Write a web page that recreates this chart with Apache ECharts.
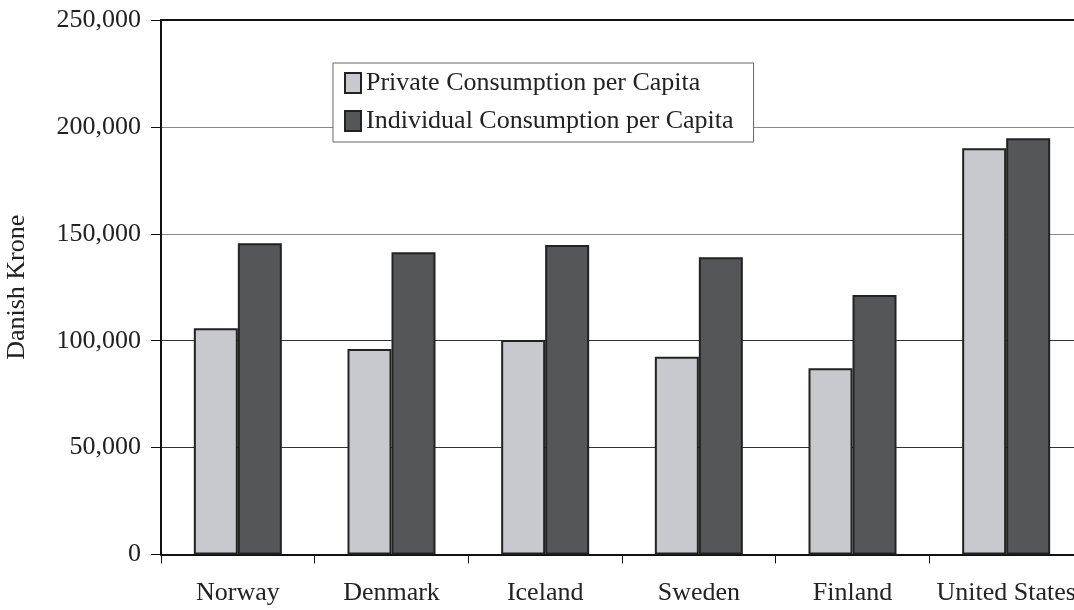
<!DOCTYPE html>
<html>
<head>
<meta charset="utf-8">
<title>Private vs Individual Consumption per Capita</title>
<script src="https://cdn.jsdelivr.net/npm/echarts@6/dist/echarts.min.js"></script>
<style>
  html, body {
    margin: 0;
    padding: 0;
    background: #fff;
  }
  #chart {
    width: 1074px;
    height: 610px;
  }
</style>
</head>
<body>
<div id="chart"></div>
<script>
// values (Danish Krone)
const countries = ['Norway', 'Denmark', 'Iceland', 'Sweden', 'Finland', 'United States']
const privateConsumption = [105800, 96100, 100300, 92500, 87100, 190000]
const individualConsumption = [145600, 141400, 144800, 139000, 121400, 194700]
const seriesNames = ['Private Consumption per Capita', 'Individual Consumption per Capita']

const font = '"Liberation Serif", "Times New Roman", serif'
const textColor = '#222'
const edgeColor = '#222'

const chart = echarts.init(document.getElementById('chart'))

chart.setOption({
  animation: false,
  textStyle: {
    fontFamily: font,
    color: textColor
  },
  grid: {
    left: 161,
    top: 20,
    width: 922,
    height: 534.5,
    containLabel: false,
    outerBoundsMode: 'none'
  },
  legend: {
    orient: 'vertical',
    left: 333,
    top: 63,
    padding: [5, 20, 6, 11],
    itemWidth: 16,
    itemHeight: 20,
    itemGap: 8,
    backgroundColor: '#fff',
    borderColor: '#666',
    borderWidth: 1,
    icon: 'rect',
    textStyle: {
      fontFamily: font,
      fontSize: 26,
      lineHeight: 30,
      color: textColor
    },
    data: [
      { name: seriesNames[0], itemStyle: { borderColor: edgeColor, borderWidth: 2 } },
      { name: seriesNames[1], itemStyle: { borderColor: edgeColor, borderWidth: 2 } }
    ]
  },
  xAxis: [
    {
      type: 'category',
      data: countries,
      axisLine: {
        lineStyle: { color: '#111', width: 2 }
      },
      axisTick: {
        show: true,
        interval: 0,
        alignWithLabel: false,
        length: 9,
        lineStyle: { color: '#111', width: 1 }
      },
      axisLabel: {
        interval: 0,
        fontFamily: font,
        fontSize: 26,
        color: textColor,
        margin: 26
      }
    },
    {
      // top frame line of the plot
      type: 'category',
      data: countries,
      position: 'top',
      axisLine: {
        lineStyle: { color: '#111', width: 2 }
      },
      axisTick: { show: false },
      axisLabel: { show: false }
    }
  ],
  yAxis: {
    type: 'value',
    min: 0,
    max: 250000,
    interval: 50000,
    name: 'Danish Krone',
    nameLocation: 'middle',
    nameRotate: 90,
    nameGap: 131,
    nameTextStyle: {
      fontFamily: font,
      fontSize: 26,
      color: textColor
    },
    axisLine: {
      show: true,
      lineStyle: { color: '#111', width: 2 }
    },
    axisTick: {
      show: true,
      length: 10,
      lineStyle: { color: '#111', width: 1 }
    },
    axisLabel: {
      fontFamily: font,
      fontSize: 26,
      color: textColor,
      margin: 20,
      formatter: v => v.toLocaleString('en-US')
    },
    splitLine: {
      show: true,
      lineStyle: {
        color: ['#111', '#333', '#333', '#888', '#888', '#111'],
        width: 1
      }
    }
  },
  series: [
    {
      name: seriesNames[0],
      type: 'bar',
      data: privateConsumption,
      barWidth: 44,
      barGap: '0%',
      itemStyle: {
        color: '#c8c9cd',
        borderColor: edgeColor,
        borderWidth: 2
      }
    },
    {
      name: seriesNames[1],
      type: 'bar',
      data: individualConsumption,
      barWidth: 44,
      barGap: '0%',
      itemStyle: {
        color: '#555658',
        borderColor: edgeColor,
        borderWidth: 2
      }
    }
  ]
})
</script>
</body>
</html>
